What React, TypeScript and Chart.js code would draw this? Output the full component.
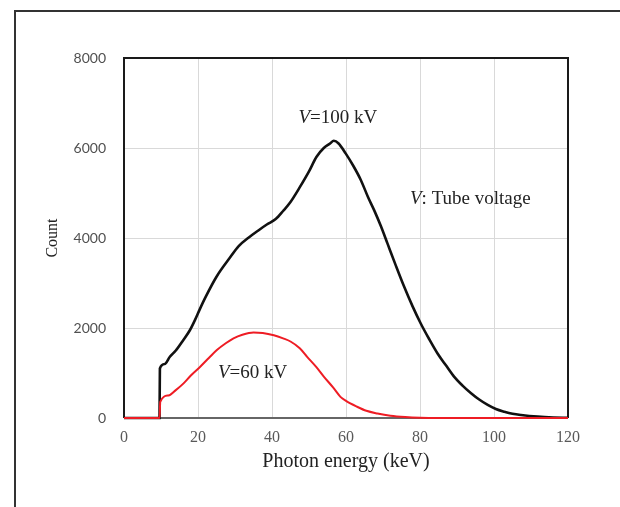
import React, { useEffect, useRef } from 'react';
import { Chart, registerables } from 'chart.js';

Chart.register(...registerables);

// Photon energy (keV) and counts, V = 100 kV
const energy100 = [0, 9.6, 9.7, 11, 12.4, 14, 16, 17.8, 19.2, 20.5, 22, 25, 28.6, 31, 34, 36, 38.6, 41, 43, 45, 47.6, 50, 52, 54, 55.7, 56.7, 58, 59.9, 62, 64, 66, 67.6, 69.5, 71.2, 73.5, 75.7, 78, 80.2, 82.5, 84.7, 87, 89.2, 91.5, 93.8, 96, 98.3, 100.5, 102.8, 105, 107.3, 111.8, 116, 120];
const count100 = [0, 0, 1100, 1200, 1360, 1500, 1730, 1950, 2180, 2420, 2680, 3140, 3560, 3820, 4030, 4150, 4300, 4420, 4600, 4800, 5140, 5480, 5800, 6000, 6100, 6160, 6100, 5880, 5600, 5290, 4900, 4620, 4250, 3880, 3380, 2920, 2480, 2100, 1750, 1440, 1170, 920, 720, 550, 410, 290, 200, 140, 95, 67, 30, 12, 5];

// Photon energy (keV) and counts, V = 60 kV
const energy60 = [0, 9.6, 9.8, 12, 14, 16.1, 18, 20.6, 23, 25.1, 27.5, 29.6, 32, 35, 37.5, 40.5, 43, 45, 47.5, 49.5, 52, 54, 56.5, 58.5, 60, 63, 65.5, 68.5, 72, 76, 80, 85, 120];
const count60 = [0, 0, 360, 500, 620, 770, 940, 1140, 1340, 1510, 1660, 1770, 1850, 1900, 1890, 1840, 1770, 1700, 1550, 1360, 1130, 920, 680, 470, 380, 250, 160, 100, 50, 20, 5, 0, 0];

const xTickValues = [0, 20, 40, 60, 80, 100, 120];
const yTickValues = [0, 2000, 4000, 6000, 8000];

const xTitle = 'Photon energy (keV)';
const yTitle = 'Count';
const label100 = ['V', '=100 kV'];
const label60 = ['V', '=60 kV'];
const labelNote = ['V', ': Tube voltage'];

const SERIF = '"Liberation Serif", "Times New Roman", serif';

function drawRich(ctx: CanvasRenderingContext2D, parts: string[], x: number, y: number, align: 'left' | 'center', size: number) {
  const italic = `italic ${size}px ${SERIF}`;
  const normal = `${size}px ${SERIF}`;
  ctx.font = italic;
  const w0 = ctx.measureText(parts[0]).width;
  ctx.font = normal;
  const w1 = ctx.measureText(parts[1]).width;
  const start = align === 'center' ? x - (w0 + w1) / 2 : x;
  ctx.textAlign = 'left';
  ctx.textBaseline = 'middle';
  ctx.fillStyle = '#222';
  ctx.font = italic;
  ctx.fillText(parts[0], start, y);
  ctx.font = normal;
  ctx.fillText(parts[1], start + w0, y);
}

export default function App() {
  const ref = useRef<HTMLCanvasElement>(null);

  useEffect(() => {
    const canvas = ref.current;
    if (!canvas) return;

    const framePlugin = {
      id: 'frame',
      beforeDraw(chart: any) {
        const ctx = chart.ctx;
        ctx.save();
        ctx.fillStyle = '#ffffff';
        ctx.fillRect(0, 0, chart.width, chart.height);
        ctx.strokeStyle = '#333';
        ctx.lineWidth = 2;
        ctx.beginPath();
        ctx.moveTo(15, chart.height);
        ctx.lineTo(15, 11);
        ctx.lineTo(chart.width, 11);
        ctx.stroke();
        ctx.restore();
      },
    };

    const borderPlugin = {
      id: 'plotBorder',
      beforeDatasetsDraw(chart: any) {
        const { ctx, chartArea: a } = chart;
        ctx.save();
        ctx.lineWidth = 2;
        ctx.strokeStyle = '#1a1a1a';
        ctx.beginPath();
        ctx.moveTo(a.left, a.bottom);
        ctx.lineTo(a.left, a.top);
        ctx.lineTo(a.right, a.top);
        ctx.lineTo(a.right, a.bottom);
        ctx.stroke();
        ctx.strokeStyle = '#666';
        ctx.beginPath();
        ctx.moveTo(a.left, a.bottom);
        ctx.lineTo(a.right, a.bottom);
        ctx.stroke();
        ctx.restore();
      },
    };

    const labelPlugin = {
      id: 'labels',
      afterDatasetsDraw(chart: any) {
        const ctx = chart.ctx;
        const xs = chart.scales.x;
        const ys = chart.scales.y;
        ctx.save();
        drawRich(ctx, label100, xs.getPixelForValue(57.8), ys.getPixelForValue(6670), 'center', 19);
        drawRich(ctx, labelNote, xs.getPixelForValue(77.3), ys.getPixelForValue(4870), 'left', 19);
        drawRich(ctx, label60, xs.getPixelForValue(25.4), ys.getPixelForValue(1000), 'left', 19);
        ctx.restore();
      },
    };

    const chart = new Chart(canvas, {
      type: 'line',
      data: {
        datasets: [
          {
            label: 'V=60 kV',
            data: energy60.map((e, i) => ({ x: e, y: count60[i] })),
            borderColor: '#ee1c24',
            borderWidth: 2,
            pointRadius: 0,
            cubicInterpolationMode: 'monotone',
            clip: 6,
          } as any,
          {
            label: 'V=100 kV',
            data: energy100.map((e, i) => ({ x: e, y: count100[i] })),
            borderColor: '#111111',
            borderWidth: 2.6,
            pointRadius: 0,
            cubicInterpolationMode: 'monotone',
            clip: 6,
          } as any,
        ],
      },
      options: {
        animation: false,
        responsive: false,
        events: [],
        layout: { padding: { left: 0, top: 58, right: 52, bottom: 0 } },
        plugins: {
          legend: { display: false },
          tooltip: { enabled: false },
        },
        scales: {
          x: {
            type: 'linear',
            min: 0,
            max: 120,
            afterBuildTicks: (s: any) => {
              s.ticks = xTickValues.map((v) => ({ value: v }));
            },
            afterFit: (s: any) => {
              s.height = 89;
            },
            ticks: {
              font: { family: SERIF, size: 16 },
              color: '#595959',
              padding: 10,
              maxRotation: 0,
              callback: (v: any) => String(v),
            },
            grid: { color: '#d9d9d9', lineWidth: 1, drawTicks: false },
            border: { display: false },
            title: {
              display: true,
              text: xTitle,
              font: { family: SERIF, size: 20 },
              color: '#222',
              padding: { top: 0, bottom: 33 },
            },
          },
          y: {
            type: 'linear',
            min: 0,
            max: 8000,
            afterBuildTicks: (s: any) => {
              s.ticks = yTickValues.map((v) => ({ value: v }));
            },
            afterFit: (s: any) => {
              s.width = 124;
            },
            ticks: {
              font: { family: 'Lato, "Liberation Sans", sans-serif', size: 14 },
              color: '#505050',
              padding: 18,
              callback: (v: any) => String(v),
            },
            grid: { color: '#d9d9d9', lineWidth: 1, drawTicks: false },
            border: { display: false },
            title: {
              display: true,
              text: yTitle,
              font: { family: SERIF, size: 16 },
              color: '#222',
              padding: { top: 43, bottom: 0 },
            },
          },
        },
      },
      plugins: [framePlugin, borderPlugin, labelPlugin],
    } as any);

    return () => chart.destroy();
  }, []);

  return (
    <div style={{ position: 'absolute', left: 0, top: 0, width: 620, height: 507, background: '#fff' }}>
      <canvas ref={ref} width={620} height={507} style={{ display: 'block', width: 620, height: 507 }} />
    </div>
  );
}
